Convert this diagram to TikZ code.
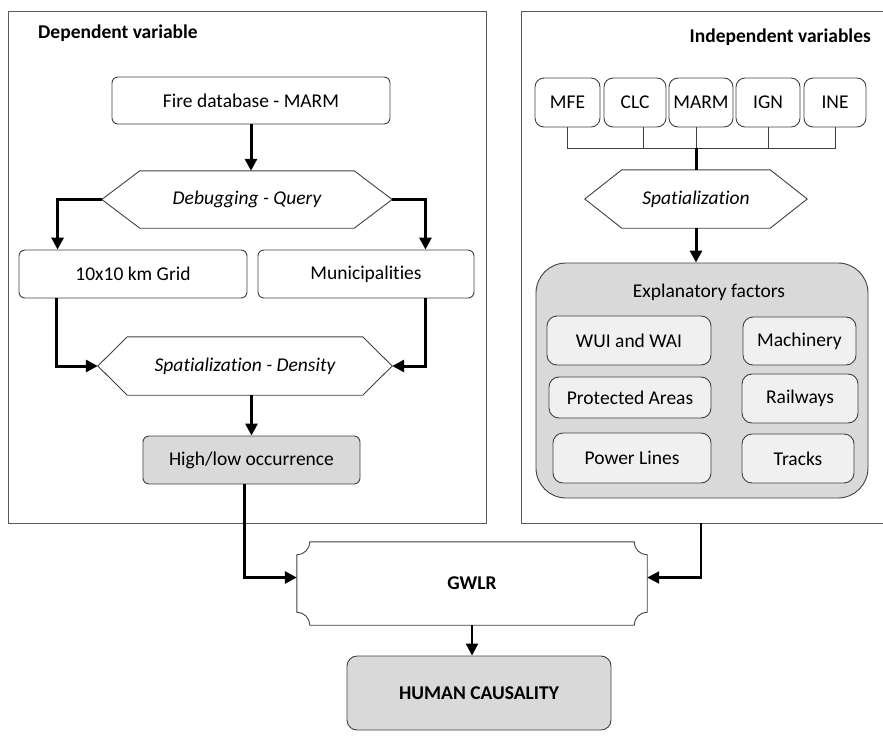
\documentclass[tikz,border=0pt]{standalone}
\usepackage{fontspec}
\setmainfont{Carlito}[Ligatures={NoCommon}]
\usepackage{tikz}
\usetikzlibrary{arrows.meta,positioning}
\definecolor{edge}{HTML}{404040}
\definecolor{framing}{HTML}{595959}
\definecolor{shade}{HTML}{D9D9D9}
\definecolor{pale}{HTML}{F0F0F0}
\newcommand{\figfont}{\fontsize{19.5}{23}\selectfont}
% outline of a six-sided box round a named node, #2 = bevel width
\newcommand{\hexline}[2]{%
  \draw[edge, line width=0.9pt] ([xshift=#2]#1.north west) -- ([xshift=-#2]#1.north east)
    -- (#1.east) -- ([xshift=-#2]#1.south east) -- ([xshift=#2]#1.south west)
    -- (#1.west) -- cycle;}

\begin{document}
\begin{tikzpicture}[x=1pt, y=1pt,
  box/.style={draw=edge, line width=0.9pt, rounded corners=6pt, fill=white,
    inner sep=0pt, font=\figfont},
  srcbox/.style={box, rounded corners=9pt, minimum height=49},
  factor/.style={box, fill=pale, rounded corners=10pt},
  hexa/.style={inner sep=0pt, minimum height=57, font=\figfont\itshape},
  title/.style={inner sep=0pt, font=\figfont\bfseries},
  heavy/.style={line width=3pt, -{Triangle[length=12pt, width=12pt]}},
  medium/.style={line width=2.2pt, -{Triangle[length=12pt, width=12pt]}},
  wire/.style={edge, line width=0.9pt}]
  \useasboundingbox (0,0) rectangle (883,-736);

  % the two panels
  \draw[framing, line width=1pt] (8,-11) rectangle (486,-523);
  \draw[framing, line width=1pt] (883,-11) -| (521,-523) -- (883,-523);
  \node[title, anchor=west] (deptitle) at (38,-33) {Dependent variable};
  \node[title, anchor=east] (indtitle) at (871,-37) {Independent variables};

  % dependent variable
  \node[box, minimum width=278, minimum height=47] (fire) at (251,-100.5) {Fire database - MARM};
  \node[hexa, minimum width=290] (query) at (247,-199.5) {Debugging - Query};
  \hexline{query}{38}
  \node[box, minimum width=228, minimum height=48] (grid) at (133,-274) {10x10 km Grid};
  \node[box, minimum width=216, minimum height=48] (muni) at (366,-274) {Municipalities};
  \node[hexa, minimum width=294, minimum height=58] (dens) at (245,-366) {Spatialization - Density};
  \hexline{dens}{29.5}
  \node[box, fill=shade, minimum width=217, minimum height=48] (occ) at (251.5,-460) {High/low occurrence};

  \draw[heavy] (fire.south) -- (fire.south |- query.north);
  \draw[heavy] (query.west) -| ([xshift=39]grid.north west);
  \draw[heavy] (query.east) -| ([xshift=-49]muni.north east);
  \draw[heavy] ([xshift=38]grid.south west) |- (dens.west);
  \draw[heavy] ([xshift=-49]muni.south east) |- (dens.east);
  \draw[heavy] (occ.north |- dens.south) -- (occ.north);

  % independent variables
  \foreach \name/\lab/\x/\w in {mfe/MFE/567.5/65, clc/CLC/635/62, marm/MARM/701/64,
      ign/IGN/768/64, ine/INE/835/62}
    \node[srcbox, minimum width=\w] (\name) at (\x,-102.5) {\lab};
  \node[hexa, minimum width=222, minimum height=58] (spat) at (696,-199) {Spatialization};
  \hexline{spat}{37}
  \coordinate (bus) at (696,-148);
  \draw[wire] (mfe.south) |- (ine.south |- bus) -- (ine.south);
  \draw[wire] ([xshift=8]clc.south) -- ([xshift=8]clc.south |- bus);
  \draw[wire] (ign.south) -- (ign.south |- bus);
  \draw[wire] (spat.north |- marm.south) -- (bus);
  \draw[line width=3pt] (bus) -- (spat.north);

  \node[box, fill=shade, rounded corners=30pt, minimum width=332, minimum height=235] (factors) at (702,-380.5) {};
  \draw[heavy] (spat.south) -- (spat.south |- factors.north);
  \node[font=\figfont] (factitle) at (709,-292) {Explanatory factors};
  \foreach \name/\lab/\x/\y/\w/\h in {wui/WUI and WAI/629/340.5/164/49,
      mach/Machinery/799.5/341/113/48,
      prot/Protected Areas/630/397.5/162/41,
      rail/Railways/800/398.5/116/49,
      power/Power Lines/632/458/158/50,
      tracks/Tracks/798/458.5/112/49}
    \node[factor, minimum width=\w, minimum height=\h] (\name) at (\x,-\y) {\lab};

  % model and result
  \node[inner sep=0pt, minimum width=350, minimum height=83, font=\figfont\bfseries] (gwlr) at (472,-583.5) {GWLR};
  \draw[edge, line width=0.9pt] ([xshift=13pt]gwlr.north west) -- ([xshift=-13pt]gwlr.north east)
    arc[start angle=180, end angle=270, radius=13pt] -- ([yshift=13pt]gwlr.south east)
    arc[start angle=90, end angle=180, radius=13pt] -- ([xshift=13pt]gwlr.south west)
    arc[start angle=0, end angle=90, radius=13pt] -- ([yshift=-13pt]gwlr.north west)
    arc[start angle=-90, end angle=0, radius=13pt] -- cycle;
  \node[box, fill=shade, rounded corners=10pt, minimum width=264, minimum height=74,
    font=\figfont\bfseries] (human) at (479,-693) {HUMAN CAUSALITY};

  \coordinate (tap) at (701,-523);
  \draw[heavy] ([xshift=-7]occ.south) |- ([yshift=6]gwlr.west);
  \draw[medium] (tap) |- ([yshift=6]gwlr.east);
  \draw[medium] (gwlr.south) -- (gwlr.south |- human.north);
\end{tikzpicture}
\end{document}
